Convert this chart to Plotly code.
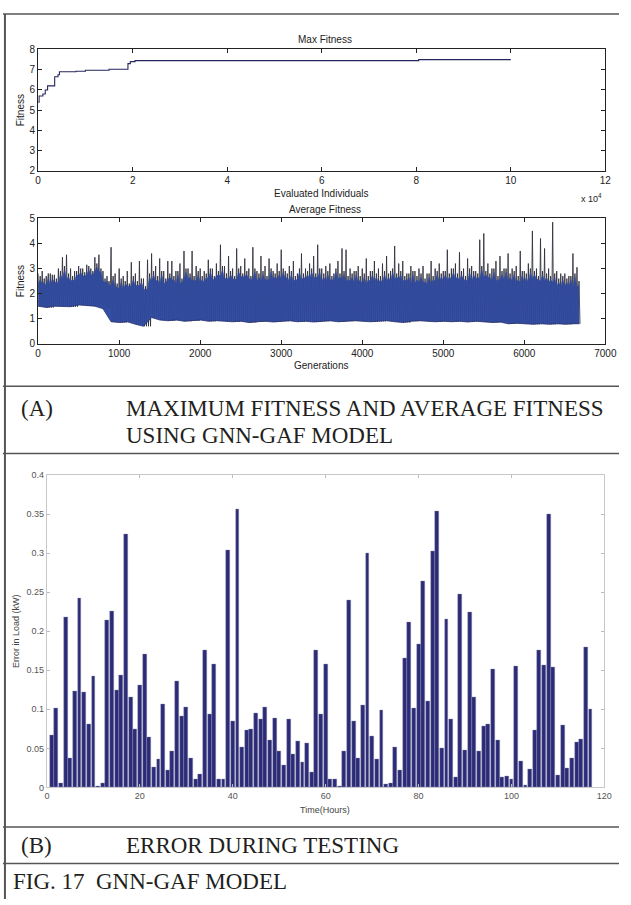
import plotly.graph_objects as go

W, H = 631, 905

# ---------------- data ----------------
# Max fitness (evaluated individuals in units of 10^4)
max_x = [0, 0.02, 0.1, 0.15, 0.2, 0.35, 0.42, 0.45, 0.8, 1.0, 1.5, 1.9, 1.95, 2.05, 8.05, 10.0]
max_y = [5.4, 5.7, 5.8, 6.0, 6.2, 6.65, 6.75, 6.9, 6.92, 6.97, 7.02, 7.3, 7.4, 7.45, 7.5, 7.5]

# Average fitness: dark spike peaks every 50 generations
avg_gen = list(range(0, 6700, 50))
avg_peak = [
    2.8, 2.9, 2.7, 2.8, 2.75, 3.0, 3.45, 3.55, 3.0, 2.9,
    3.1, 3.0, 3.15, 3.0, 3.45, 3.55, 2.9, 2.7, 3.85, 2.8,
    3.0, 2.7, 2.9, 3.25, 2.8, 3.3, 2.6, 3.35, 3.6, 3.1,
    3.4, 2.9, 3.3, 3.3, 2.9, 3.2, 3.7, 3.0, 3.7, 3.1,
    3.0, 2.9, 3.35, 3.0, 3.2, 3.95, 3.1, 3.5, 3.0, 3.8,
    3.1, 3.4, 3.0, 3.85, 2.9, 3.5, 3.1, 3.4, 2.9, 3.2,
    3.75, 2.9, 3.1, 3.3, 2.8, 3.6, 3.0, 3.2, 3.5, 3.95,
    3.0, 3.1, 3.2, 2.8, 3.3, 3.8, 3.75, 3.0, 2.9, 3.1,
    3.0, 3.4, 2.9, 3.3, 3.0, 3.2, 3.5, 2.9, 3.9, 3.2,
    3.3, 2.8, 3.1, 2.9, 3.0, 3.1, 2.8, 3.3, 3.0, 3.2,
    2.9, 3.75, 3.0, 3.2, 3.65, 3.0, 3.4, 3.1, 2.9, 4.15,
    4.4, 3.2, 3.0, 3.3, 3.5, 3.0, 3.6, 3.0, 3.1, 3.7,
    2.9, 3.2, 4.5, 3.0, 4.2, 3.8, 3.0, 4.85, 2.9, 2.8,
    2.8, 2.7, 3.6, 3.05,
]
# Secondary (blue-strand) peaks, 25 generations after each dark peak
avg_blue_peak = [
    2.7, 2.6, 2.8, 2.75, 2.6, 2.9, 3.1, 2.8, 2.7, 2.9,
    3.0, 2.85, 3.1, 2.9, 3.2, 3.0, 2.6, 2.5, 2.7, 2.4,
    2.6, 2.5, 2.4, 2.7, 2.5, 2.6, 2.3, 2.8, 2.9, 2.7,
    2.9, 2.6, 2.8, 2.7, 2.9, 2.6, 3.0, 2.8, 2.7, 2.9,
    2.7, 2.8, 3.0, 2.7, 2.9, 3.1, 2.8, 2.9, 2.7, 3.0,
    2.8, 2.9, 2.7, 3.0, 2.8, 2.9, 2.7, 3.0, 2.8, 2.9,
    3.0, 2.8, 2.9, 2.7, 3.0, 2.8, 2.9, 3.0, 2.8, 3.0,
    2.8, 2.9, 2.7, 3.0, 2.8, 2.9, 2.7, 2.8, 2.9, 2.7,
    2.8, 2.7, 2.9, 2.8, 2.7, 2.9, 2.8, 3.0, 2.8, 2.9,
    2.7, 2.8, 2.9, 2.7, 2.8, 2.6, 2.8, 2.7, 2.9, 2.8,
    2.9, 2.8, 3.0, 2.8, 2.9, 2.7, 3.0, 2.9, 2.8, 3.1,
    2.9, 2.8, 3.0, 2.7, 2.9, 3.0, 2.8, 2.9, 2.7, 2.9,
    2.8, 3.0, 2.9, 2.7, 2.9, 2.8, 2.7, 2.8, 2.6, 2.7,
    2.6, 2.7, 2.8, 2.5,
]
# Average fitness band envelope every 100 generations
env_gen = list(range(0, 6700, 100)) + [6680]
avg_low = [
    1.5, 1.45, 1.5, 1.5, 1.48, 1.55, 1.52, 1.5, 1.4, 0.88,
    0.85, 0.88, 0.78, 0.7, 1.05, 0.95, 0.92, 0.95, 0.9, 0.92,
    0.95, 0.9, 0.92, 0.9, 0.88, 0.9, 0.85, 0.88, 0.9, 0.87,
    0.9, 0.92, 0.88, 0.9, 0.87, 0.9, 0.92, 0.88, 0.9, 0.92,
    0.9, 0.88, 0.9, 0.92, 0.88, 0.85, 0.9, 0.92, 0.9, 0.88,
    0.9, 0.88, 0.9, 0.87, 0.9, 0.88, 0.85, 0.87, 0.8, 0.82,
    0.8, 0.78, 0.8, 0.78, 0.8, 0.78, 0.8, 0.8,
]
avg_blue_hi = [
    2.4, 2.3, 2.45, 2.6, 2.5, 2.7, 2.75, 2.9, 2.5, 2.3,
    2.2, 2.35, 2.3, 2.2, 2.5, 2.4, 2.55, 2.4, 2.6, 2.5,
    2.45, 2.6, 2.7, 2.55, 2.6, 2.7, 2.6, 2.5, 2.55, 2.6,
    2.6, 2.5, 2.55, 2.6, 2.65, 2.5, 2.55, 2.6, 2.5, 2.45,
    2.4, 2.5, 2.45, 2.5, 2.6, 2.5, 2.4, 2.45, 2.4, 2.5,
    2.55, 2.6, 2.55, 2.5, 2.6, 2.65, 2.5, 2.55, 2.5, 2.45,
    2.45, 2.6, 2.5, 2.45, 2.3, 2.3, 2.25, 2.2,
]

# Error during testing
hours = list(range(1, 118))
err = [
    0.067, 0.102, 0.005, 0.218, 0.038, 0.123, 0.242, 0.122, 0.081, 0.142,
    0.001, 0.005, 0.214, 0.226, 0.125, 0.144, 0.325, 0.116, 0.074, 0.131,
    0.170, 0.064, 0.026, 0.036, 0.106, 0.022, 0.046, 0.136, 0.091, 0.103,
    0.038, 0.011, 0.017, 0.176, 0.094, 0.158, 0.011, 0.011, 0.304, 0.085,
    0.357, 0.051, 0.073, 0.074, 0.095, 0.087, 0.103, 0.061, 0.088, 0.046,
    0.028, 0.087, 0.043, 0.059, 0.032, 0.056, 0.020, 0.176, 0.094, 0.158,
    0.011, 0.011, 0.002, 0.046, 0.240, 0.085, 0.037, 0.105, 0.300, 0.065,
    0.036, 0.099, 0.004, 0.005, 0.051, 0.022, 0.165, 0.212, 0.102, 0.184,
    0.264, 0.110, 0.302, 0.354, 0.050, 0.216, 0.087, 0.013, 0.248, 0.048,
    0.224, 0.116, 0.046, 0.078, 0.081, 0.151, 0.061, 0.013, 0.014, 0.010,
    0.155, 0.034, 0.003, 0.023, 0.073, 0.176, 0.156, 0.350, 0.154, 0.016,
    0.080, 0.024, 0.037, 0.058, 0.062, 0.180, 0.100,
]

# ---------------- helpers ----------------
def px(x):
    return x / W

def py(y):
    return 1 - y / H

SANS = "Liberation Sans"
SERIF = "Liberation Serif"

fig = go.Figure()

# Max fitness
fig.add_trace(go.Scatter(x=max_x, y=max_y, mode="lines", line_shape="hv",
                         line=dict(color="#26265e", width=1.1),
                         xaxis="x", yaxis="y", showlegend=False))

# Average fitness: dark zigzag (main peaks and secondary peaks down to band bottom)
zx, zy = [], []
for i, g in enumerate(avg_gen):
    lo = avg_low[i // 2]
    zx += [g, g + 12, g + 25, g + 37]
    zy += [avg_peak[i], lo, avg_blue_peak[i], lo]
fig.add_trace(go.Scatter(x=zx, y=zy, mode="lines",
                         line=dict(color="#2e2e3c", width=0.8),
                         xaxis="x2", yaxis="y2", showlegend=False))

# blue band: lower edge then jagged upper edge
bx, by = [], []
for i, g in enumerate(avg_gen):
    bx += [g, g + 25]
    by += [avg_blue_hi[i // 2], avg_blue_peak[i] - 0.15]
fig.add_trace(go.Scatter(x=env_gen, y=avg_low, mode="lines",
                         line=dict(color="#2b3470", width=0.8),
                         xaxis="x2", yaxis="y2", showlegend=False))
fig.add_trace(go.Scatter(x=bx, y=by, mode="lines", fill="tonexty",
                         fillcolor="#3550a6", line=dict(color="#3a54aa", width=0.6),
                         xaxis="x2", yaxis="y2", showlegend=False))
# faint dark streaks over the band
fig.add_trace(go.Scatter(x=zx, y=zy, mode="lines", opacity=0.16,
                         line=dict(color="#141428", width=0.6),
                         xaxis="x2", yaxis="y2", showlegend=False))

# Error bars
fig.add_trace(go.Bar(x=hours, y=err, width=0.84,
                     marker=dict(color="#2c2b78", line=dict(color="#8f8fb0", width=0.4)),
                     xaxis="x3", yaxis="y3", showlegend=False))

dark_axis = dict(showline=True, mirror="ticks", ticks="inside", ticklen=4,
                 linecolor="#222", linewidth=1, tickcolor="#222",
                 showgrid=False, zeroline=False,
                 tickfont=dict(family=SANS, size=10, color="#222"))
light_axis = dict(showline=True, mirror="ticks", ticks="inside", ticklen=3,
                  linecolor="#c8c8c8", linewidth=1, tickcolor="#bbbbbb",
                  showgrid=False, zeroline=False,
                  tickfont=dict(family=SANS, size=9, color="#555"))

fig.update_layout(
    width=W, height=H, margin=dict(l=0, r=0, t=0, b=0),
    paper_bgcolor="white", plot_bgcolor="white",
    bargap=0,
    xaxis=dict(domain=[px(36), px(617)], range=[0, 12], tick0=0, dtick=2, anchor="y", **dark_axis),
    yaxis=dict(domain=[py(168), py(45)], range=[2, 8], dtick=1, anchor="x", **dark_axis),
    xaxis2=dict(domain=[px(36), px(617)], range=[0, 7000], dtick=1000, anchor="y2", **dark_axis),
    yaxis2=dict(domain=[py(343), py(216)], range=[0, 5], dtick=1, anchor="x2", **dark_axis),
    xaxis3=dict(domain=[px(45), px(616)], range=[0, 120], dtick=20, anchor="y3", **light_axis),
    yaxis3=dict(domain=[py(792), py(476)], range=[0, 0.4], dtick=0.05, anchor="x3", **light_axis),
)

ann = []
def text(x, y, s, size=10, family=SANS, color="#222", xanchor="center", angle=0):
    ann.append(dict(x=px(x), y=py(y), xref="paper", yref="paper", text=s, showarrow=False,
                    xanchor=xanchor, yanchor="middle", textangle=angle,
                    font=dict(family=family, size=size, color=color)))

text(330, 35, "Max Fitness")
text(18, 107, "Fitness", angle=-90)
text(326, 191, "Evaluated Individuals")
text(603, 195, "x 10<sup>4</sup>", size=9)
text(330, 207, "Average Fitness")
text(18, 280, "Fitness", angle=-90)
text(326, 365, "Generations")
text(14, 634, "Error in Load (kW)", size=9, color="#444", angle=-90)
text(330, 815, "Time(Hours)", size=9, color="#444")

cap = dict(size=23, family=SERIF, color="#231f20", xanchor="left")
text(16, 408, "(A)", **cap)
text(124, 408, "MAXIMUM FITNESS AND AVERAGE FITNESS", **cap)
text(124, 436, "USING GNN-GAF MODEL", **cap)
text(16, 851, "(B)", **cap)
text(124, 851, "ERROR DURING TESTING", **cap)
text(8, 887, "FIG. 17", **cap)
text(93, 887, "GNN-GAF MODEL", **cap)
fig.update_layout(annotations=ann)

shapes = []
for yy in [9, 386, 454, 832, 869]:
    shapes.append(dict(type="line", xref="paper", yref="paper", x0=0, x1=1, y0=py(yy), y1=py(yy),
                       line=dict(color="#555", width=1.5)))
shapes.append(dict(type="line", xref="paper", yref="paper", x0=px(2), x1=px(2), y0=py(9), y1=0,
                   line=dict(color="#555", width=2)))
fig.update_layout(shapes=shapes)

fig.write_html("out.html")
